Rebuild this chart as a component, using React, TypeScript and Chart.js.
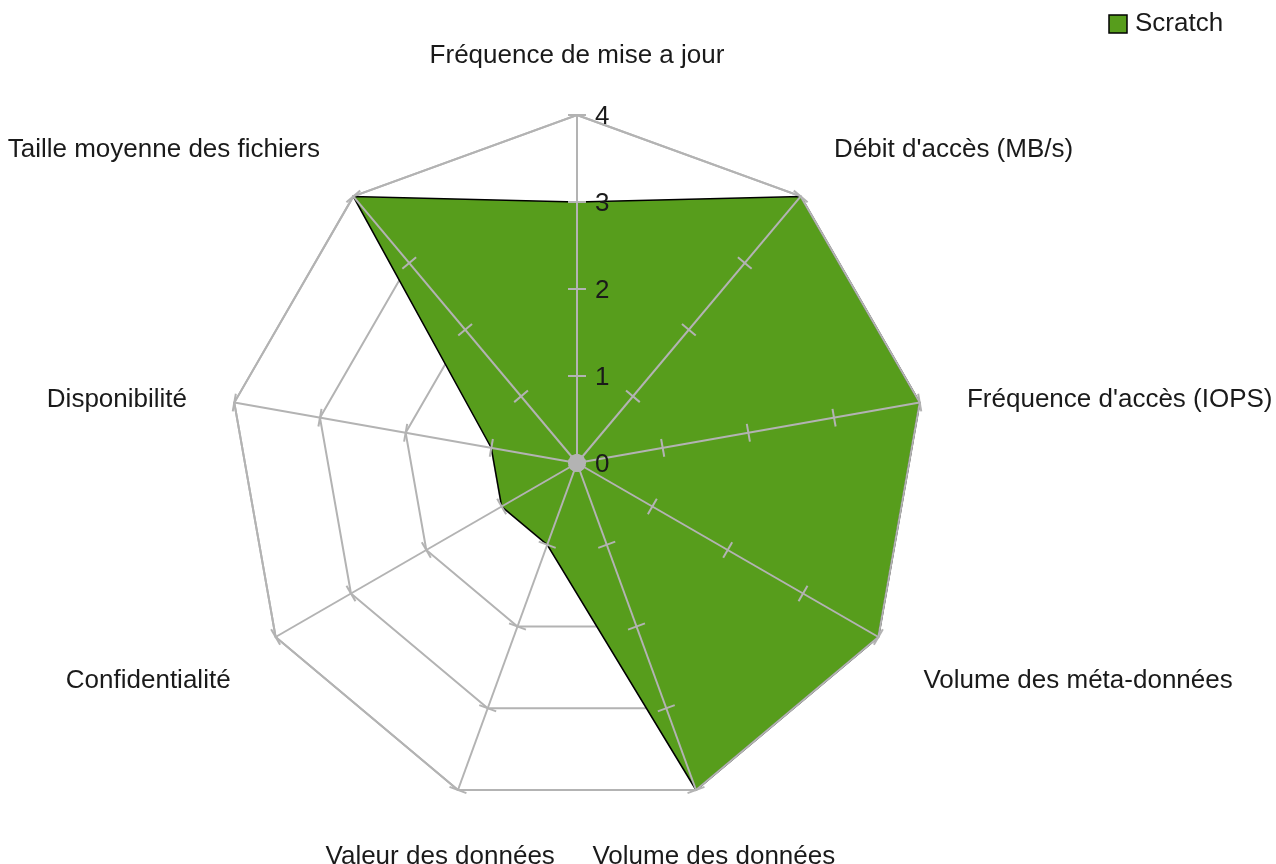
import { useEffect, useRef } from 'react';
import { Chart, registerables } from 'chart.js';

Chart.register(...registerables);

const CATEGORIES = [
  'Fréquence de mise a jour',
  "Débit d'accès (MB/s)",
  "Fréquence d'accès (IOPS)",
  'Volume des méta-données',
  'Volume des données',
  'Valeur des données',
  'Confidentialité',
  'Disponibilité',
  'Taille moyenne des fichiers',
];
const SERIES_NAME = 'Scratch';
const SCRATCH = [3, 4, 4, 4, 4, 1, 1, 1, 4];
const TICK_LABELS = ['0', '1', '2', '3', '4'];
const SCALE_MIN = 0;
const SCALE_MAX = 4;
const SCALE_STEP = 1;

const FONT = '26px "Liberation Sans", Arial, sans-serif';
const GREEN = '#579d1c';
const GRID = '#b3b3b3';
const TEXT = '#1a1a1a';

const overlayPlugin = {
  id: 'overlay',
  afterDatasetsDraw(chart: any) {
    const s = chart.scales.r;
    const ctx: CanvasRenderingContext2D = chart.ctx;
    const n = chart.data.labels.length;
    ctx.save();
    ctx.strokeStyle = GRID;
    ctx.lineWidth = 2;
    ctx.lineCap = 'butt';

    // outer polygon on top of the fill
    ctx.beginPath();
    for (let i = 0; i < n; i++) {
      const p = s.getPointPosition(i, s.drawingArea);
      if (i === 0) ctx.moveTo(p.x, p.y);
      else ctx.lineTo(p.x, p.y);
    }
    ctx.closePath();
    ctx.stroke();

    // angle lines
    for (let i = 0; i < n; i++) {
      const p = s.getPointPosition(i, s.drawingArea);
      ctx.beginPath();
      ctx.moveTo(s.xCenter, s.yCenter);
      ctx.lineTo(p.x, p.y);
      ctx.stroke();
    }

    // tick marks across each axis
    const half = 9;
    s.ticks.forEach((t: any) => {
      const d = s.getDistanceFromCenterForValue(t.value);
      for (let i = 0; i < n; i++) {
        const p = s.getPointPosition(i, d);
        const px = -Math.sin(p.angle);
        const py = Math.cos(p.angle);
        ctx.beginPath();
        ctx.moveTo(p.x - px * half, p.y - py * half);
        ctx.lineTo(p.x + px * half, p.y + py * half);
        ctx.stroke();
      }
    });

    // hub at the centre
    ctx.fillStyle = GRID;
    ctx.beginPath();
    ctx.arc(s.xCenter, s.yCenter, 9, 0, Math.PI * 2);
    ctx.fill();

    // tick labels (right of the first axis)
    ctx.fillStyle = TEXT;
    ctx.font = FONT;
    ctx.textAlign = 'left';
    ctx.textBaseline = 'middle';
    s.ticks.forEach((t: any, idx: number) => {
      const d = s.getDistanceFromCenterForValue(t.value);
      const label = TICK_LABELS[idx] ?? String(t.value);
      ctx.fillText(label, s.xCenter + 18, s.yCenter - d + 2);
    });

    // point labels
    for (let i = 0; i < n; i++) {
      const a = s.getIndexAngle(i);
      const sin = Math.sin(a);
      const cos = Math.cos(a);
      const R = s.drawingArea + 52;
      const x = s.xCenter + sin * R;
      const y = s.yCenter - cos * R;
      ctx.textAlign = Math.abs(sin) < 0.5 ? 'center' : sin > 0 ? 'left' : 'right';
      if (cos > 0.5) {
        ctx.textBaseline = 'alphabetic';
        ctx.fillText(chart.data.labels[i], x, y);
      } else if (cos < -0.3) {
        ctx.textBaseline = 'top';
        ctx.fillText(chart.data.labels[i], x, y + 5);
      } else {
        ctx.textBaseline = 'middle';
        ctx.fillText(chart.data.labels[i], x - sin * 4, y + 6);
      }
    }

    // legend
    const ds = chart.data.datasets[0];
    ctx.fillStyle = ds.backgroundColor;
    ctx.fillRect(1109, 15, 18, 18);
    ctx.strokeStyle = '#000';
    ctx.lineWidth = 1.5;
    ctx.strokeRect(1109, 15, 18, 18);
    ctx.fillStyle = TEXT;
    ctx.textAlign = 'left';
    ctx.textBaseline = 'alphabetic';
    ctx.fillText(ds.label, 1135, 31);

    ctx.restore();
  },
};

export default function App() {
  const ref = useRef<HTMLCanvasElement | null>(null);

  useEffect(() => {
    if (!ref.current) return;
    const chart = new Chart(ref.current, {
      type: 'radar',
      data: {
        labels: CATEGORIES,
        datasets: [
          {
            label: SERIES_NAME,
            data: SCRATCH,
            fill: true,
            backgroundColor: GREEN,
            borderColor: '#000',
            borderWidth: 1.5,
            pointRadius: 0,
            pointHoverRadius: 0,
            tension: 0,
          },
        ],
      },
      options: {
        animation: false,
        responsive: true,
        maintainAspectRatio: false,
        layout: { padding: { top: 115, bottom: 53, left: 229, right: 351 } },
        plugins: {
          legend: { display: false },
          tooltip: { enabled: false },
        },
        scales: {
          r: {
            min: SCALE_MIN,
            max: SCALE_MAX,
            ticks: { stepSize: SCALE_STEP, display: false },
            pointLabels: { display: false },
            angleLines: { display: false },
            grid: { color: GRID, lineWidth: 2, circular: false },
          },
        },
      },
      plugins: [overlayPlugin],
    });
    return () => chart.destroy();
  }, []);

  return (
    <div style={{ position: 'absolute', left: 0, top: 0, width: 1276, height: 864, background: '#fff' }}>
      <canvas ref={ref} />
    </div>
  );
}
